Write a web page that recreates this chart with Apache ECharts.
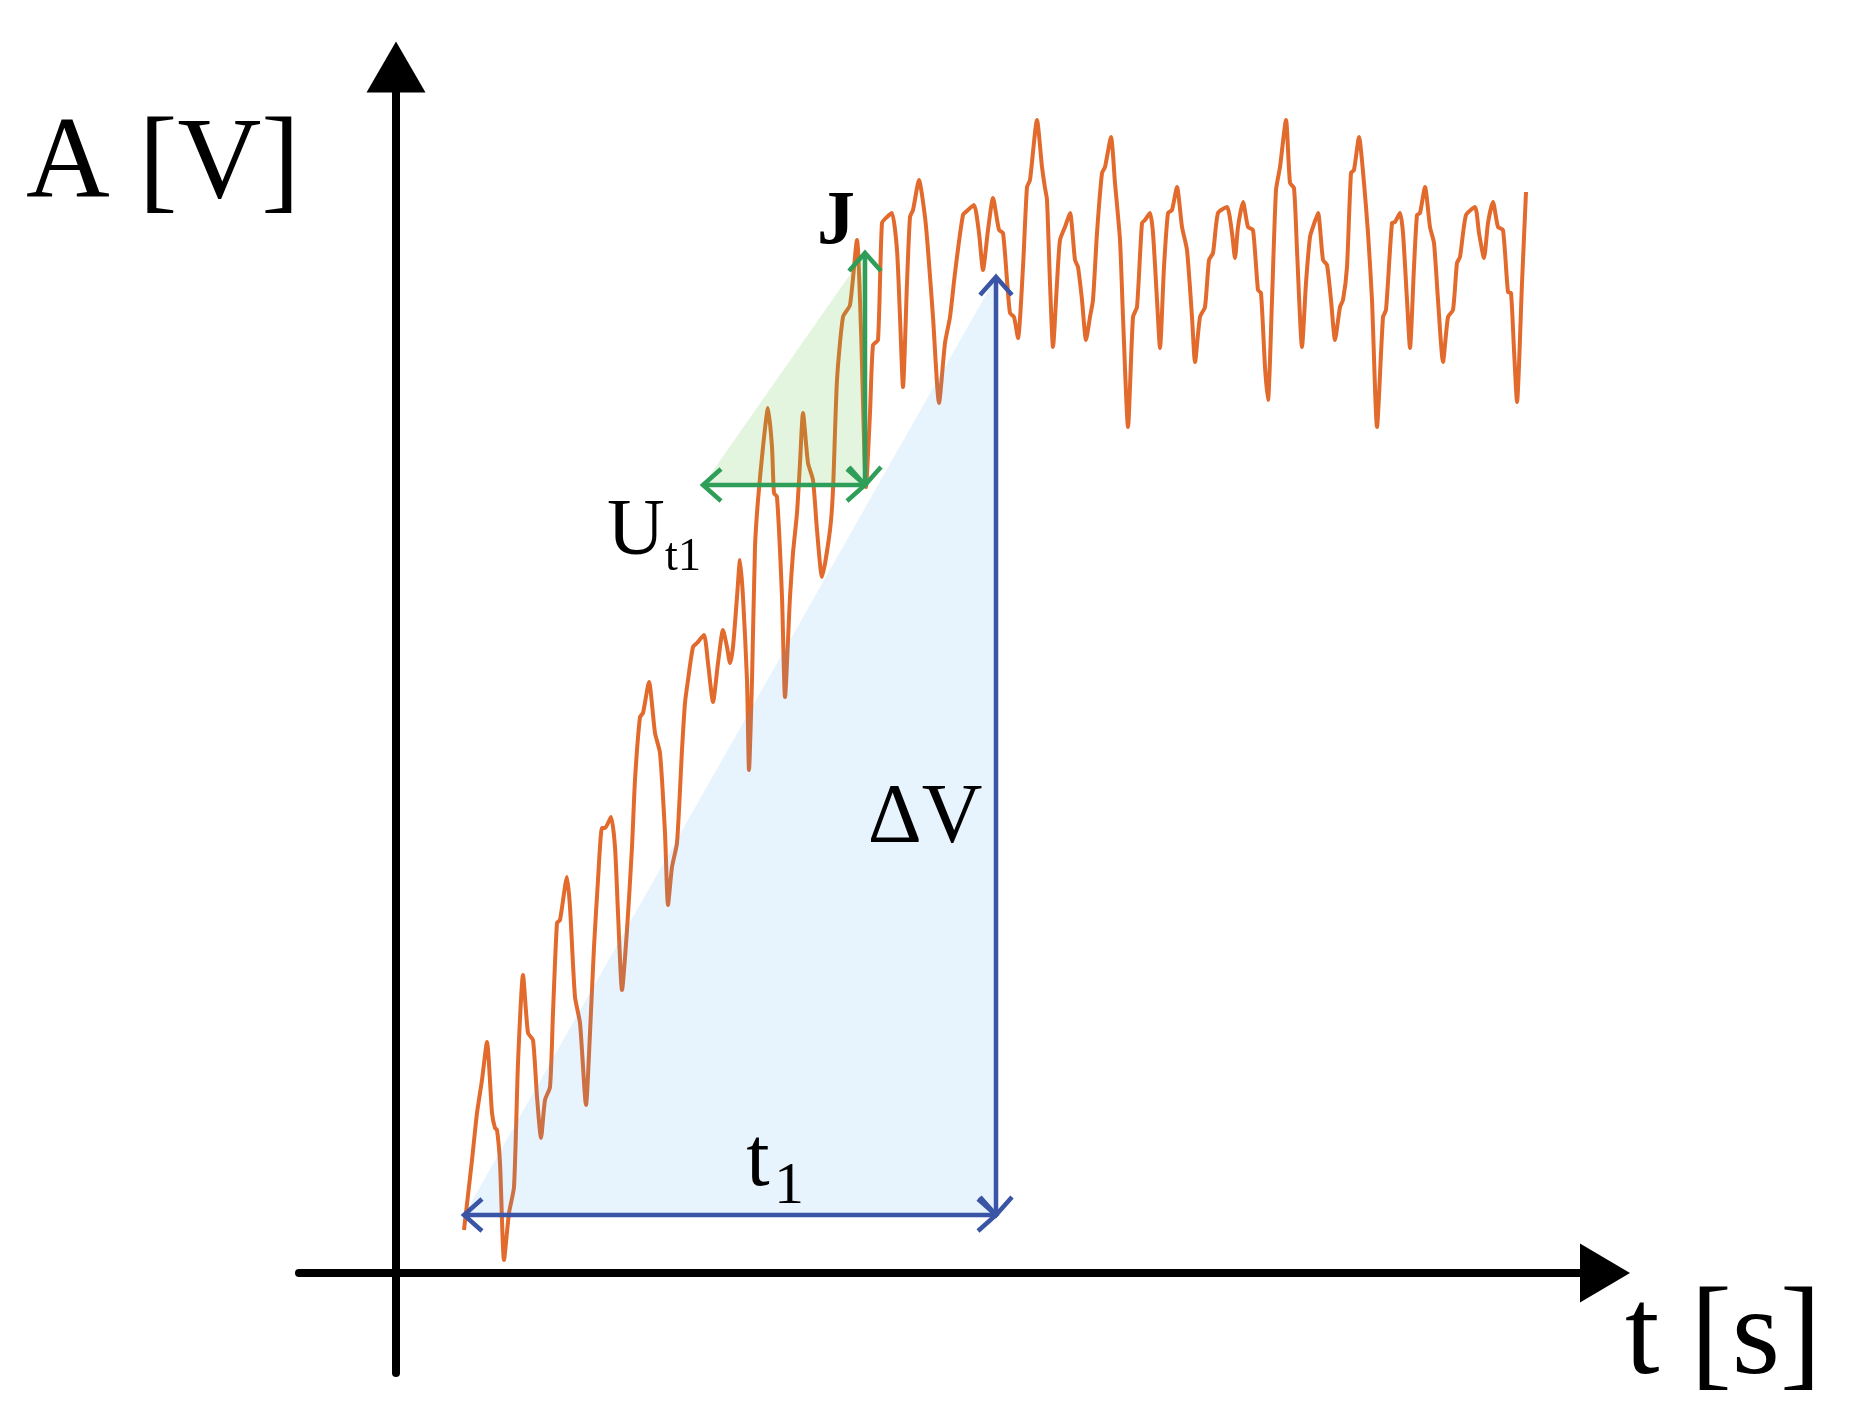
<!DOCTYPE html>
<html><head><meta charset="utf-8">
<script src="https://cdn.jsdelivr.net/npm/echarts@6/dist/echarts.min.js"></script>
<style>html,body{margin:0;padding:0;background:#fff}#c{width:1853px;height:1428px}</style>
</head><body><div id="c"></div>
<script>
// time axis values (arbitrary units) of the sampled signal
const timeValues = [6.8,7.6,8.1,8.6,9.1,9.6,9.9,10.1,10.4,10.8,
11.3,11.8,12.2,12.7,13.2,13.7,14.1,14.5,14.9,15.4,
15.7,16.1,16.4,17.1,17.4,17.9,18.4,19.0,19.4,19.8,
20.2,20.6,20.9,21.5,21.9,22.2,22.6,23.1,23.6,23.9,
24.4,24.7,25.3,25.9,26.4,26.9,27.2,27.6,28.1,28.6,28.9,
29.2,29.7,30.1,30.8,31.2,31.7,32.2,32.7,33.1,33.4,
33.7,34.1,34.4,34.7,35.1,35.3,35.6,35.9,36.2,36.7,
37.2,37.6,37.8,38.1,38.6,38.9,39.4,39.7,40.1,40.4,
40.7,41.2,41.7,42.1,42.6,43.4,43.7,44.1,44.7,45.4,
46.1,46.5,47.0,47.4,47.7,48.2,48.6,49.1,49.6,50.1,
50.4,50.7,51.1,51.4,51.7,52.3,52.9,53.2,53.7,54.3,
54.9,55.4,55.9,56.7,57.2,57.8,58.3,58.7,59.2,59.7,
60.3,60.7,61.1,61.4,61.8,62.2,62.7,63.1,63.4,64.1,
64.6,64.9,65.1,65.4,65.7,66.1,66.4,66.9,67.4,67.9,
68.2,68.6,69.0,69.4,69.7,70.1,70.6,70.9,71.5,71.9,
72.4,72.7,73.2,73.7,74.1,74.6,74.9,75.4,75.7,76.1,
76.4,76.8,77.2,77.6,78.1,78.6,79.1,79.6,79.9,80.4,
80.9,81.3,81.7,82.2,83.1,83.6,83.9,84.2,84.7,85.2,
85.7,86.2,86.5,86.9,87.2,87.6,88.0,88.4,89.0,89.4,
89.8,90.1,90.6,91.0,91.4,91.7,92.2,92.7,93.1,93.5,
93.9,94.4,94.7,95.1,95.5,95.8,96.3,96.8,97.2,97.6,
98.1,98.7,99.0,99.6,99.9,100.4,100.7,101.1,101.4,101.8,
102.1,102.4,102.9,103.4,103.8,104.2,104.7,105.2,105.7,106.1,
106.4,107.0,107.9,108.3,108.8,109.2,109.7,110.2,110.7,111.2,
111.5,111.8,112.1,112.6,113.0];

// signal amplitude values
const signalValues = [4.3,11.3,16.0,19.3,23.1,16.0,14.5,14.3,11.0,1.3,
6.0,8.6,21.0,29.8,24.0,23.3,17.6,13.5,17.3,18.6,
26.0,35.0,35.3,39.6,36.6,27.6,25.0,16.8,24.0,32.6,
39.3,44.5,44.5,45.6,42.6,36.0,28.3,34.3,42.6,49.3,
55.6,56.0,59.1,54.0,52.0,44.0,36.8,40.6,43.0,52.3,57.0,
59.3,62.6,63.0,63.8,61.0,57.1,61.0,64.3,62.6,61.0,
62.6,67.6,71.3,67.6,59.3,50.3,59.3,72.6,77.3,82.6,
86.5,82.6,78.0,77.6,67.6,57.6,67.6,72.0,76.0,81.0,
86.0,81.0,79.3,74.3,69.6,74.3,78.3,89.3,95.6,96.8,
103.3,94.3,78.6,86.0,92.8,93.3,105.0,105.6,106.0,102.3,
95.6,88.6,99.0,105.6,106.3,109.3,105.6,102.3,95.6,87.0,
93.0,95.6,100.0,105.8,106.3,106.8,104.0,100.3,104.3,107.5,
104.3,104.0,99.3,96.0,95.6,93.5,100.6,108.6,109.3,115.3,
110.6,108.5,107.3,99.0,92.6,99.0,103.3,104.6,106.0,101.3,
100.6,97.3,93.3,95.6,97.3,104.0,110.0,110.6,113.6,109.0,
103.3,95.6,84.6,95.6,96.6,105.0,105.3,106.0,104.0,97.3,
92.5,100.6,106.0,106.3,108.6,104.6,102.3,95.6,91.1,95.6,
96.6,101.3,102.0,106.0,106.6,104.0,101.5,104.6,107.1,104.6,
104.3,98.3,98.0,90.6,87.3,97.3,108.3,110.6,115.3,109.0,
108.5,102.3,92.6,99.0,103.6,104.6,106.0,101.3,100.8,97.3,
93.3,96.6,97.3,100.6,110.0,110.3,113.6,109.0,104.0,97.3,
84.6,95.6,96.3,105.0,105.1,106.0,104.0,97.3,92.5,100.6,
105.8,106.0,108.6,104.6,103.0,97.3,91.1,95.6,96.3,101.0,
101.6,105.8,106.6,104.0,101.5,105.0,107.1,104.6,104.3,98.1,
98.0,92.3,87.1,99.0,108.1];

// right triangles: [left t, base v, right t, top v]
const slopeTriangle = [6.8, 5.8, 60.0, 99.6];   // t1 / ΔV
const jerkTriangle  = [30.7, 78.8, 46.9, 102.0]; // Ut1 / J

// annotation texts and their anchor points (data units)
const labelTexts = ['J', 'U', 't1', 'ΔV', 't', '1'];
const labelT = [44.0, 24.0, 28.7, 52.9, 36.2, 39.3];
const labelV = [105.0, 74.0, 71.5, 45.3, 11.0, 8.6];

// axis titles
const yAxisTitle = 'A [V]';
const xAxisTitle = 't [s]';

// ---------- styles ----------
const SERIF = '"Liberation Serif", "DejaVu Serif", serif';
const labelFonts = ['bold 76px', '80px', '46px', '84px', '84px', '60px'];

function triangleRenderer(lineColor, fillColor) {
  return function (params, api) {
    const a = api.coord([api.value(0), api.value(1)]);
    const b = api.coord([api.value(2), api.value(1)]);
    const c = api.coord([api.value(2), api.value(3)]);
    const arm = 18, half = 16, lw = 4.5;
    const ls = { stroke: lineColor, lineWidth: lw, fill: null };
    function chev(tip, dx, dy) {
      const px = -dy, py = dx;
      return { type: 'polyline', shape: { points: [
        [tip[0] - arm * dx + half * px, tip[1] - arm * dy + half * py],
        [tip[0], tip[1]],
        [tip[0] - arm * dx - half * px, tip[1] - arm * dy - half * py]] },
        style: ls };
    }
    return { type: 'group', children: [
      { type: 'polygon', shape: { points: [a, b, c] }, style: { fill: fillColor } },
      { type: 'line', shape: { x1: a[0], y1: a[1], x2: b[0], y2: b[1] }, style: ls },
      { type: 'line', shape: { x1: b[0], y1: b[1], x2: c[0], y2: c[1] }, style: ls },
      chev(a, -1, 0), chev(b, 1, 0), chev(b, 0, 1), chev(c, 0, -1)
    ] };
  };
}

function labelRenderer(params, api) {
  const i = api.value(2);
  const p = api.coord([api.value(0), api.value(1)]);
  return { type: 'text', x: p[0], y: p[1], style: {
    text: labelTexts[i], font: labelFonts[i] + ' ' + SERIF, fill: '#000',
    align: 'center', verticalAlign: 'middle' } };
}

const n = Math.min(timeValues.length, signalValues.length);
const lineData = [];
for (let i = 0; i < n; i++) lineData.push([timeValues[i], signalValues[i]]);
const labelData = labelTexts.map((t, i) => [labelT[i], labelV[i], i]);

const chart = echarts.init(document.getElementById('c'), null, { renderer: 'canvas' });
chart.setOption({
  animation: false,
  backgroundColor: '#ffffff',
  grid: { left: 299, top: 67, right: 248, bottom: 55, containLabel: false, outerBoundsMode: 'none' },
  xAxis: {
    type: 'value', min: -9.7, max: 120.9,
    axisLine: { show: true, onZero: true, symbol: ['none', 'triangle'], symbolSize: [59, 50],
      lineStyle: { color: '#000', width: 8 } },
    axisTick: { show: false }, axisLabel: { show: false }, splitLine: { show: false }
  },
  yAxis: {
    type: 'value', min: -10, max: 120.6,
    axisLine: { show: true, onZero: true, symbol: ['none', 'triangle'], symbolSize: [59, 51],
      lineStyle: { color: '#000', width: 8 } },
    axisTick: { show: false }, axisLabel: { show: false }, splitLine: { show: false }
  },
  graphic: [
    { type: 'text', x: 26, y: 167, style: { text: yAxisTitle, font: '116px ' + SERIF, fill: '#000', align: 'left', verticalAlign: 'middle' } },
    { type: 'text', x: 1625, y: 1340, style: { text: xAxisTitle, font: '124px ' + SERIF, fill: '#000', align: 'left', verticalAlign: 'middle' } }
  ],
  series: [
    {
      type: 'line', data: lineData, showSymbol: false, smooth: 0.2, clip: false, z: 2,
      lineStyle: { color: '#e26a2c', width: 4 }
    },
    {
      type: 'custom', renderItem: triangleRenderer('#3a55a6', 'rgba(60,160,240,0.12)'),
      data: [slopeTriangle], encode: { x: [0, 2], y: [1, 3] }, clip: false, z: 3
    },
    {
      type: 'custom', renderItem: triangleRenderer('#2f9e58', 'rgba(100,200,70,0.18)'),
      data: [jerkTriangle], encode: { x: [0, 2], y: [1, 3] }, clip: false, z: 4
    },
    {
      type: 'custom', renderItem: labelRenderer, data: labelData,
      encode: { x: 0, y: 1 }, clip: false, z: 5, silent: true
    }
  ]
});
</script></body></html>
